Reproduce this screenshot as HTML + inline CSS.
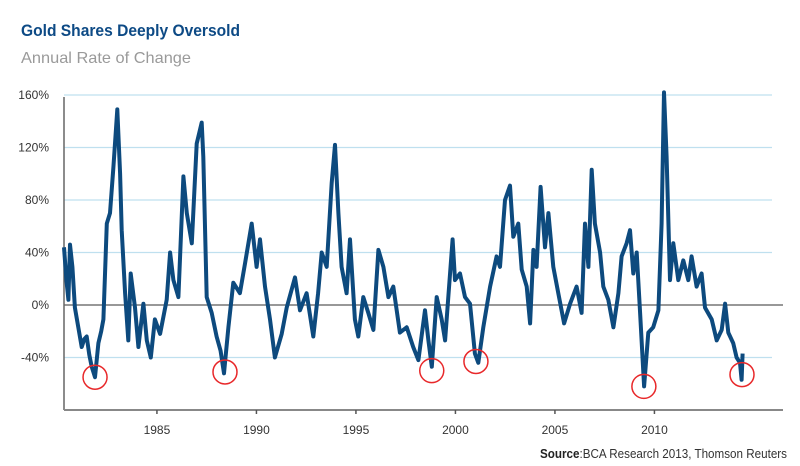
<!DOCTYPE html>
<html><head><meta charset="utf-8"><style>
html,body{margin:0;padding:0;background:#fff;}
svg{display:block;font-family:"Liberation Sans",sans-serif;}
</style></head><body>
<svg id="chart" width="800" height="466" viewBox="0 0 800 466">
<rect x="0" y="0" width="800" height="466" fill="#ffffff"/>
<text x="21" y="36" font-size="17" font-weight="bold" fill="#0d4a85" textLength="219" lengthAdjust="spacingAndGlyphs">Gold Shares Deeply Oversold</text>
<text x="21" y="63" font-size="16" fill="#9a9a9a" textLength="170" lengthAdjust="spacingAndGlyphs">Annual Rate of Change</text>
<g id="grid"></g>
<g id="yticks"></g>
<g id="xticks"></g>
<path id="series" fill="none" stroke="#0d4a7e" stroke-width="4" stroke-linejoin="round"/>
<g id="circles"></g>
<text x="787" y="458" font-size="13" fill="#333" text-anchor="end" textLength="247" lengthAdjust="spacingAndGlyphs"><tspan font-weight="bold" fill="#222">Source</tspan>:BCA Research 2013, Thomson Reuters</text>
</svg>
<script>
const yTickValues=[160,120,80,40,0,-40];
const xTickYears=[1985,1990,1995,2000,2005,2010];
const years=[1980.33,1980.45,1980.55,1980.63,1980.75,1980.88,1981.05,1981.22,1981.35,1981.47,1981.6,1981.72,1981.89,1982.06,1982.2,1982.31,1982.48,1982.64,1982.81,1983.01,1983.15,1983.23,1983.4,1983.56,1983.68,1983.9,1984.07,1984.32,1984.49,1984.69,1984.9,1985.16,1985.49,1985.66,1985.83,1986.08,1986.33,1986.5,1986.75,1987.0,1987.25,1987.33,1987.5,1987.75,1988.0,1988.2,1988.37,1988.59,1988.84,1989.17,1989.43,1989.76,1990.01,1990.18,1990.43,1990.68,1990.93,1991.27,1991.52,1991.94,1992.19,1992.52,1992.86,1993.1,1993.28,1993.53,1993.78,1993.95,1994.12,1994.28,1994.53,1994.7,1994.95,1995.12,1995.37,1995.62,1995.88,1996.13,1996.38,1996.63,1996.88,1997.21,1997.55,1997.88,1998.14,1998.47,1998.64,1998.81,1999.06,1999.31,1999.48,1999.64,1999.86,1999.98,2000.23,2000.48,2000.73,2000.98,2001.15,2001.4,2001.74,2002.07,2002.24,2002.49,2002.74,2002.91,2003.16,2003.33,2003.58,2003.75,2003.92,2004.08,2004.28,2004.5,2004.67,2004.92,2005.17,2005.46,2005.76,2006.09,2006.34,2006.51,2006.68,2006.85,2007.01,2007.27,2007.43,2007.68,2007.94,2008.19,2008.35,2008.6,2008.77,2008.94,2009.11,2009.28,2009.48,2009.69,2009.94,2010.2,2010.36,2010.48,2010.61,2010.78,2010.95,2011.2,2011.45,2011.7,2011.87,2012.12,2012.37,2012.54,2012.88,2013.13,2013.38,2013.55,2013.71,2013.96,2014.13,2014.3,2014.38,2014.43];
const values=[44,19,4,46,29,-2,-17,-32,-26,-24,-38,-47,-55,-29,-20,-11,62,70,105,149,100,57,9,-27,24,-2,-32,1,-27,-40,-11,-22,4,40,19,6,98,70,47,123,139,113,6,-6,-24,-35,-52,-17,17,9,32,62,29,50,14,-11,-40,-22,-2,21,-4,9,-24,9,40,29,93,122,70,29,9,50,-11,-24,6,-6,-19,42,29,6,14,-21,-17,-32,-42,-4,-27,-47,6,-11,-27,6,50,19,24,6,1,-37,-44,-17,14,37,29,80,91,52,62,27,14,-14,42,29,90,44,70,29,9,-14,1,14,-6,62,29,103,62,40,14,4,-17,9,37,47,57,24,40,-6,-62,-21,-17,-4,62,162,113,19,47,19,34,19,37,14,24,-2,-11,-27,-19,1,-21,-29,-40,-44,-57,-37];
const troughYears=[1981.89,1988.42,1998.81,2001.03,2009.47,2014.4];
const troughValues=[-55,-51,-50,-43,-62,-53];

const NS="http://www.w3.org/2000/svg";
const X0=64,Y0=305;
function xs(yr){return X0+(yr-1980.33)*19.9;}
function ys(v){return Y0-v*52.5/40;}
function mk(tag,attrs,parent){const e=document.createElementNS(NS,tag);for(const k in attrs)e.setAttribute(k,attrs[k]);parent.appendChild(e);return e;}
const grid=document.getElementById('grid');
const yt=document.getElementById('yticks');
const xt=document.getElementById('xticks');
yTickValues.forEach(v=>{
  const y=ys(v);
  const ln=mk('line',{x1:X0,x2:v===0?783:772,y1:y,y2:y,stroke:v===0?'#777':'#bfe0ef','stroke-width':v===0?1.5:1.2},grid);
  
  
  const t=mk('text',{x:49,y:y+4,'font-size':12,fill:'#333','text-anchor':'end'},yt);
  t.textContent=v+'%';
  
  
});
const ax=mk('line',{x1:X0,x2:X0,y1:97,y2:410,stroke:'#666','stroke-width':1.5},grid);


const bx=mk('line',{x1:X0,x2:783,y1:410,y2:410,stroke:'#888','stroke-width':2},grid);


xTickYears.forEach(yr=>{
  const x=xs(yr);
  const tk=mk('line',{x1:x,x2:x,y1:410,y2:414,stroke:'#555','stroke-width':1.5},xt);
  
  
  const t=mk('text',{x:x,y:434,'font-size':12,fill:'#333','text-anchor':'middle'},xt);
  t.textContent=yr;
  
  
});
let d='';
years.forEach((yr,i)=>{d+=(i?'L':'M')+xs(yr).toFixed(1)+','+ys(values[i]).toFixed(1);});
document.getElementById('series').setAttribute('d',d);
const cg=document.getElementById('circles');
troughYears.forEach((yr,i)=>{
  const c=mk('circle',{cx:xs(yr),cy:ys(troughValues[i]),r:12,fill:'none',stroke:'#e8282a','stroke-width':1.5},cg);
  
  
});
</script>
</body></html>
